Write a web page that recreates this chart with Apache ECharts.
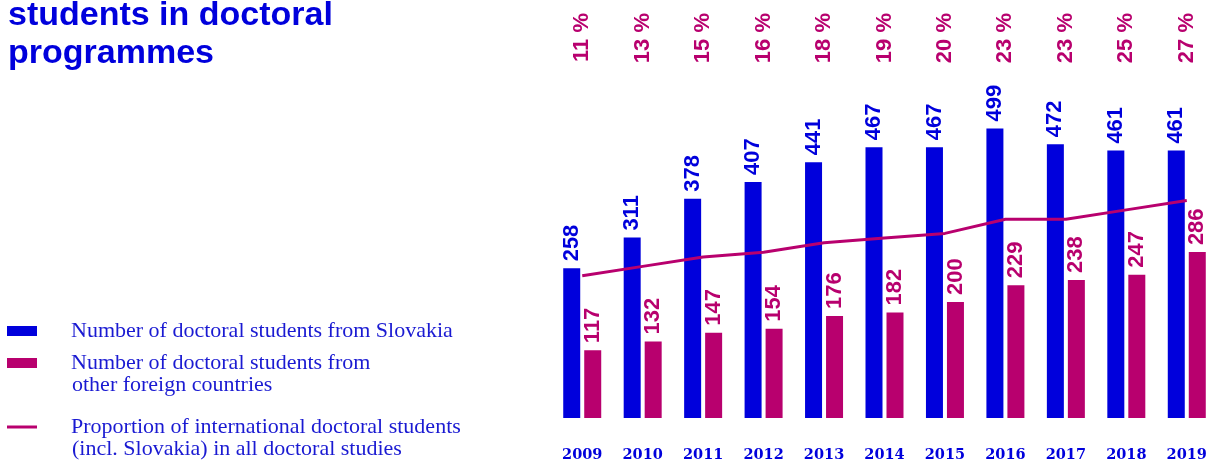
<!DOCTYPE html>
<html><head><meta charset="utf-8">
<script src="https://cdn.jsdelivr.net/npm/echarts@6/dist/echarts.min.js"></script>
<style>html,body{margin:0;padding:0;background:#fff}#c{width:1206px;height:466px}</style>
</head><body><div id="c"></div>
<script>
const years = ['2009','2010','2011','2012','2013','2014','2015','2016','2017','2018','2019'];
const slovakia = [258,311,378,407,441,467,467,499,472,461,461];
const foreign = [117,132,147,154,176,182,200,229,238,247,286];
const proportion = [11,13,15,16,18,19,20,23,23,25,27];
const seriesNames = ['Number of doctoral students from Slovakia','Number of doctoral students from','Proportion of international doctoral students'];
const continuation = ['other foreign countries','(incl. Slovakia) in all doctoral studies'];
const titleText = 'students in doctoral\nprogrammes';

const BLUE = '#0000dc', MAG = '#b8006e', TXT = '#1a1ad2';
const numFont = {fontFamily:'Liberation Sans, Arial, sans-serif', fontWeight:'bold', fontSize:22};
const legFont = {fontFamily:'Liberation Serif, serif', fontSize:22, lineHeight:23, color:TXT, padding:[0,0,0,29]};

function legend(name, top){
  return {left:7, top:top, padding:0, itemWidth:30, itemHeight:10, selectedMode:false,
    data:[{name:name, icon: name===seriesNames[2] ? 'path://M0,0H30V3H0Z' : 'rect'}],
    textStyle:legFont};
}
const chart = echarts.init(document.getElementById('c'), null, {renderer:'canvas'});
chart.setOption({
  animation:false,
  title:[
    {text:titleText, left:8, top:-3, padding:0, textStyle:{fontFamily:'Liberation Sans, Arial, sans-serif', fontWeight:'bold', fontSize:34, lineHeight:38, color:BLUE}},
    {text:continuation[0], left:72, top:373.5, padding:0, textStyle:{fontFamily:'Liberation Serif, serif', fontWeight:'normal', fontSize:22, lineHeight:23, color:TXT}},
    {text:continuation[1], left:72, top:437.5, padding:0, textStyle:{fontFamily:'Liberation Serif, serif', fontWeight:'normal', fontSize:22, lineHeight:23, color:TXT}}
  ],
  legend:[legend(seriesNames[0],319.5), legend(seriesNames[1],351.5), legend(seriesNames[2],415.5)],
  grid:{left:552, width:665, top:70, height:348, outerBoundsMode:'none', containLabel:false},
  xAxis:[
    {type:'category', data:years, axisLine:{show:false}, axisTick:{show:false},
     axisLabel:{margin:30, color:BLUE, fontFamily:'DejaVu Serif, serif', fontWeight:'bold', fontSize:14.5}},
    {type:'category', data:years, position:'bottom', offset:-406, axisLine:{show:false}, axisTick:{show:false},
     axisLabel:Object.assign({rotate:90, margin:1, color:MAG, formatter:(v,i)=>proportion[i]+' %'}, numFont)}
  ],
  yAxis:[
    {type:'value', min:0, max:600, show:false, splitLine:{show:false}},
    {type:'value', min:-19.2, max:54.7, show:false, splitLine:{show:false}}
  ],
  series:[
    {name:seriesNames[0], type:'bar', data:slovakia, barWidth:17, barGap:'23.5%', itemStyle:{color:BLUE},
     label:Object.assign({show:true, position:'top', distance:7, rotate:90, align:'left', verticalAlign:'middle', color:BLUE}, numFont)},
    {name:seriesNames[1], type:'bar', data:foreign, barWidth:17, itemStyle:{color:MAG},
     label:Object.assign({show:true, position:'top', distance:7, rotate:90, align:'left', verticalAlign:'middle', color:MAG}, numFont)},
    {name:seriesNames[2], type:'line', yAxisIndex:1, data:proportion, symbol:'none', z:5,
     lineStyle:{color:MAG, width:3}, itemStyle:{color:MAG}}
  ]
});
</script></body></html>
